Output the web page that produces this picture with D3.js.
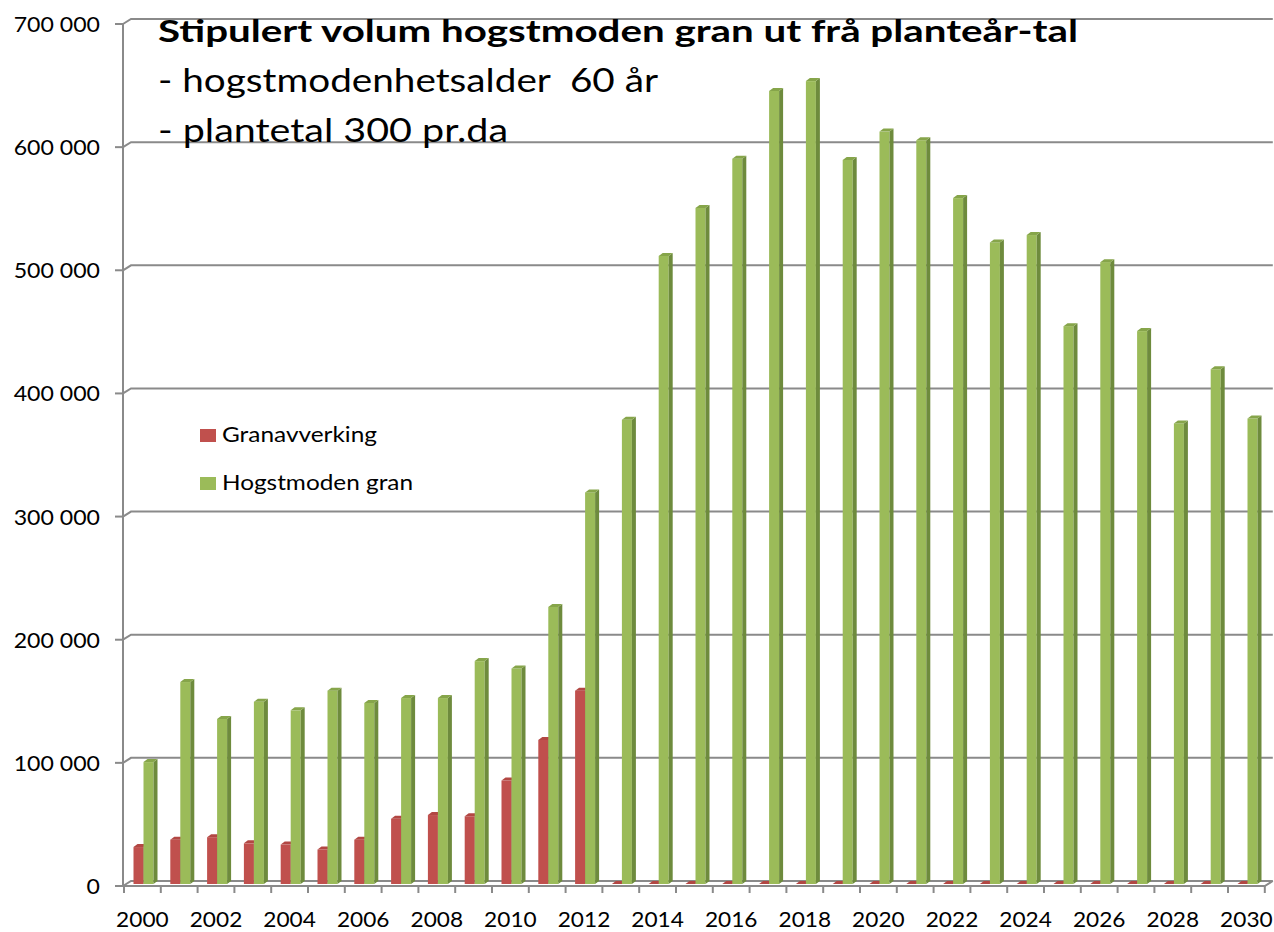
<!DOCTYPE html>
<html>
<head>
<meta charset="utf-8">
<script src="https://cdn.jsdelivr.net/npm/d3@7/dist/d3.min.js"></script>
<style>
    body { margin: 0; background: #fff; }
    svg text { font-family: Lato, "Open Sans", sans-serif; fill: #000; }
</style>
</head>
<body>
<svg id="chart" width="1274" height="932"></svg>
<script>
// Årstal (kategoriar)
const years = [2000, 2001, 2002, 2003, 2004, 2005, 2006, 2007, 2008, 2009, 2010,
    2011, 2012, 2013, 2014, 2015, 2016, 2017, 2018, 2019, 2020,
    2021, 2022, 2023, 2024, 2025, 2026, 2027, 2028, 2029, 2030];

// Granavverking (raud)
const granavverking = [30000, 36000, 38000, 33000, 32000, 28000, 36000, 53000, 56000, 55000, 84000,
    117000, 157000, 0, 0, 0, 0, 0, 0, 0, 0,
    0, 0, 0, 0, 0, 0, 0, 0, 0, 0];

// Hogstmoden gran (grøn)
const hogstmoden = [99000, 164000, 134000, 148000, 141000, 157000, 147000, 151000, 151000, 181000, 175000,
    225000, 318000, 377000, 510000, 549000, 589000, 644000, 652000, 588000, 611000,
    604000, 557000, 521000, 527000, 453000, 505000, 449000, 374000, 418000, 378000];

const seriesNames = ['Granavverking', 'Hogstmoden gran'];
const yTicks = [0, 100000, 200000, 300000, 400000, 500000, 600000, 700000];
const xLabels = [2000, 2002, 2004, 2006, 2008, 2010, 2012, 2014, 2016, 2018, 2020, 2022, 2024, 2026, 2028, 2030];

const titleLines = ['Stipulert volum hogstmoden gran ut frå planteår-tal',
    '- hogstmodenhetsalder  60 år',
    '- plantetal 300 pr.da'];

const colors = {
    'Granavverking': { front: '#C0504D', side: '#8C3836', top: '#B24743' },
    'Hogstmoden gran': { front: '#9BBB59', side: '#6E8B3D', top: '#86A54A' }
};

const svg = d3.select('#chart');

const x = d3.scaleBand().domain(years).range([124, 1264.8]);
const sub = d3.scaleBand().domain(seriesNames).range([9.5, 29.5]);
const y = d3.scaleLinear().domain([0, 700000]).range([884, 22]);

// 3D-forskyving for bakvegg og søyler
const wallDx = 8, wallDy = 5;
const barDx = 4, barDy = 3;
const frontY = v => y(v) + 2;
const backY = v => y(v) - 3;
const gridColor = '#8a8a8a';

const fmt = d3.formatLocale({ thousands: ' ', grouping: [3], decimal: ',', currency: ['', ''] }).format(',');

// Rutenett på bakveggen
const grid = svg.append('g').attr('fill', 'none').attr('stroke', gridColor).attr('stroke-width', 2);
yTicks.forEach(v => {
    grid.append('path')
        .attr('d', `M${x.range()[0] - 1},${frontY(v)} L${x.range()[0] - 1 + wallDx},${backY(v)} L${x.range()[1] + wallDx},${backY(v)}`);
    grid.append('path')
        .attr('d', `M${x.range()[0] - 9},${frontY(v)} L${x.range()[0] - 1},${frontY(v)}`);
});

// Golvet framme og y-aksen
grid.append('path')
    .attr('d', `M${x.range()[0] - 1},${frontY(0)} L${x.range()[1]},${frontY(0)} L${x.range()[1] + wallDx},${backY(0)}`);
grid.append('path')
    .attr('d', `M${x.range()[0] - 1},${frontY(700000)} L${x.range()[0] - 1},${frontY(0)}`);

// Små merke på x-aksen
years.concat([null]).forEach(yr => {
    const xx = yr === null ? x.range()[1] : x(yr);
    grid.append('path').attr('d', `M${xx},${frontY(0)} L${xx},${frontY(0) + 7}`);
});

// Søyler med side og topp
function drawBar(g, x0, w, v, c) {
    const base = y(0);
    const top = y(v);
    g.append('rect')
        .attr('x', x0).attr('y', top)
        .attr('width', w).attr('height', base - top)
        .attr('fill', c.front);
    g.append('polygon')
        .attr('points', [[x0 + w, top], [x0 + w + barDx, top - barDy], [x0 + w + barDx, base - barDy], [x0 + w, base]].join(' '))
        .attr('fill', c.side);
    g.append('polygon')
        .attr('points', [[x0, top], [x0 + barDx, top - barDy], [x0 + w + barDx, top - barDy], [x0 + w, top]].join(' '))
        .attr('fill', c.top);
}

const bars = svg.append('g');
years.forEach((yr, i) => {
    const vals = { 'Granavverking': granavverking[i], 'Hogstmoden gran': hogstmoden[i] };
    seriesNames.forEach(s => {
        drawBar(bars, x(yr) + sub(s), sub.bandwidth(), vals[s], colors[s]);
    });
});

// Y-aksetekst
svg.append('g').selectAll('text')
    .data(yTicks)
    .enter().append('text')
    .attr('transform', d => `translate(100,${frontY(d) + 8}) scale(1.1,1)`)
    .attr('text-anchor', 'end')
    .attr('font-size', '21px')
    .text(d => fmt(d));

// X-aksetekst
svg.append('g').selectAll('text')
    .data(xLabels)
    .enter().append('text')
    .attr('transform', d => `translate(${x(d) + x.bandwidth() / 2},927) scale(1.03,1)`)
    .attr('text-anchor', 'middle')
    .attr('font-size', '22px')
    .text(d => d);

// Tittel
svg.append('text')
    .attr('x', 158).attr('y', 42)
    .attr('font-size', '30px').attr('font-weight', 'bold')
    .attr('textLength', 920).attr('lengthAdjust', 'spacingAndGlyphs')
    .text(titleLines[0]);
svg.append('text')
    .attr('x', 158).attr('y', 92)
    .attr('font-size', '33px')
    .style('white-space', 'pre')
    .attr('textLength', 500).attr('lengthAdjust', 'spacingAndGlyphs')
    .text(titleLines[1]);
svg.append('text')
    .attr('x', 158).attr('y', 142)
    .attr('font-size', '33px')
    .attr('textLength', 350).attr('lengthAdjust', 'spacingAndGlyphs')
    .text(titleLines[2]);

// Forklaring
const legend = svg.append('g');
const legendWidths = [155, 191];
seriesNames.forEach((s, i) => {
    legend.append('rect')
        .attr('x', 200).attr('y', 429 + i * 48)
        .attr('width', 16).attr('height', 13)
        .attr('fill', colors[s].front);
    legend.append('text')
        .attr('x', 222).attr('y', 442 + i * 48)
        .attr('font-size', '21px')
        .attr('textLength', legendWidths[i]).attr('lengthAdjust', 'spacingAndGlyphs')
        .text(s);
});
</script>
</body>
</html>
